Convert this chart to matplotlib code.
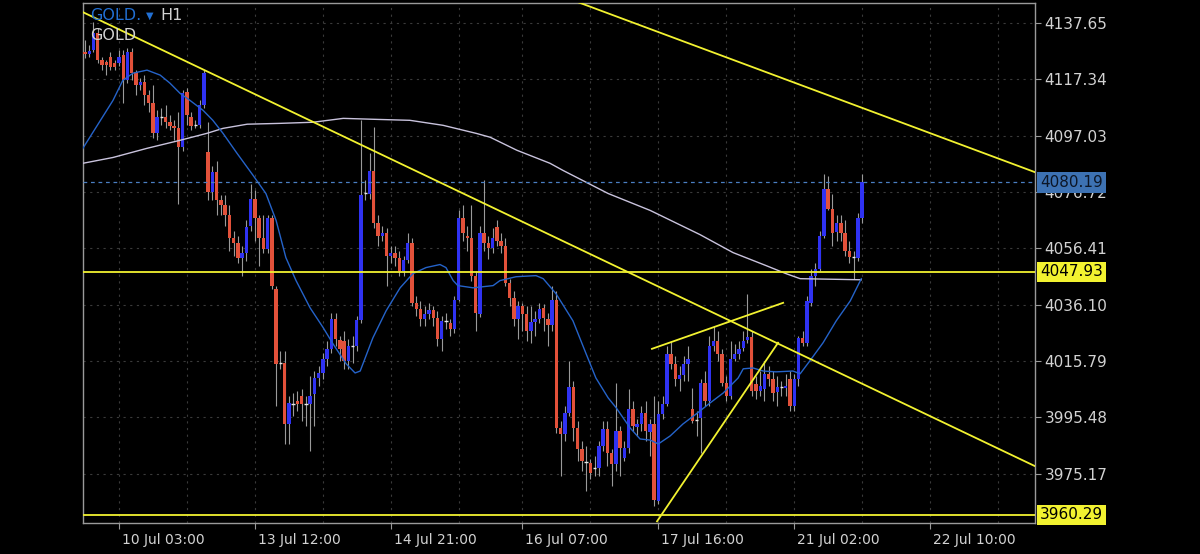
import numpy as np
import matplotlib
matplotlib.use('Agg')
import matplotlib.pyplot as plt
from matplotlib.transforms import blended_transform_factory, ScaledTranslation

# H1 candles, GOLD (bar index = position on the chart)
opens = [
    4127.2, 4126.4, 4127.9, 4134.0, 4124.3, 4123.6, 4125.4, 4123.2, 4123.2, 4126.1,
    4117.0, 4127.2, 4119.9, 4115.2, 4116.3, 4111.6, 4108.7, 4097.9, 4104.0, 4103.7,
    4101.9, 4100.4, 4099.7, 4092.8, 4112.7, 4103.7, 4100.4, 4100.8, 4108.0, 4091.0,
    4076.6, 4083.8, 4073.7, 4071.9, 4068.3, 4060.3, 4058.5, 4053.1, 4054.9, 4064.6,
    4074.4, 4067.5, 4060.0, 4056.3, 4067.2, 4041.9, 4015.1, 4015.1, 3993.1, 4000.7,
    4001.4, 4003.2, 4000.3, 4000.3, 4003.9, 4009.7, 4011.5, 4016.6, 4020.2, 4031.0,
    4023.4, 4023.1, 4015.9, 4021.3, 4021.3, 4030.7, 4076.2, 4076.2, 4084.5, 4065.7,
    4061.0, 4062.1, 4053.8, 4054.9, 4053.1, 4048.4, 4052.4, 4058.5, 4036.8, 4034.6,
    4031.0, 4032.8, 4034.3, 4031.4, 4023.8, 4030.3, 4029.6, 4027.4, 4037.9, 4067.5,
    4061.0, 4060.0, 4046.6, 4032.8, 4061.8, 4058.5, 4056.7, 4064.3, 4059.2, 4057.4,
    4044.0, 4038.6, 4031.0, 4035.7, 4032.8, 4026.7, 4030.0, 4031.0, 4035.0, 4031.0,
    4028.9, 4037.9, 3991.6, 3989.5, 3997.1, 4006.5, 3991.6, 3984.1, 3979.4, 3979.0,
    3977.2, 3977.2, 3985.1, 3991.3, 3982.6, 3978.6, 3990.6, 3980.8, 3984.4, 3998.5,
    3992.0, 3993.1, 3997.1, 3990.2, 3993.1, 3965.3, 3996.7, 4000.3, 4018.4, 4014.8,
    4009.3, 4010.8, 4014.8, 3998.5, 3994.5, 3995.3, 4007.9, 4001.4, 4021.3, 4023.1,
    4018.4, 4007.9, 4003.2, 4016.6, 4018.4, 4020.6, 4023.4, 4024.5, 4007.5, 4005.0,
    4005.7, 4011.2, 4009.3, 4004.7, 4006.5, 4006.1, 4009.3, 3999.6, 4009.3, 4024.2,
    4022.4, 4036.8, 4046.6, 4049.1, 4061.0, 4078.0, 4070.8, 4062.5, 4065.7, 4062.1,
    4055.6, 4053.1, 4053.1, 4067.5]

highs = [
    4131.5, 4129.7, 4138.0, 4135.8, 4125.4, 4124.3, 4127.2, 4124.3, 4127.9, 4127.9,
    4128.6, 4128.6, 4120.7, 4117.8, 4118.9, 4113.4, 4115.2, 4106.2, 4106.9, 4108.0,
    4104.4, 4102.6, 4105.5, 4113.4, 4114.2, 4105.5, 4102.6, 4109.8, 4120.7, 4101.9,
    4086.3, 4088.1, 4075.5, 4075.5, 4071.9, 4062.8, 4061.0, 4057.4, 4066.5, 4079.8,
    4077.3, 4068.3, 4068.3, 4068.3, 4068.3, 4043.0, 4019.5, 4019.5, 4003.2, 4004.3,
    4005.0, 4005.7, 4003.2, 4010.4, 4012.2, 4014.0, 4018.7, 4023.1, 4033.2, 4033.2,
    4024.9, 4026.7, 4023.8, 4024.9, 4032.1, 4102.6, 4080.9, 4090.7, 4100.1, 4068.3,
    4064.6, 4063.6, 4057.4, 4057.4, 4055.6, 4053.8, 4061.8, 4060.0, 4039.3, 4037.5,
    4035.7, 4036.8, 4035.7, 4033.9, 4032.1, 4033.2, 4031.0, 4039.3, 4070.1, 4071.9,
    4064.6, 4071.9, 4048.4, 4064.6, 4080.9, 4061.0, 4063.6, 4066.5, 4062.1, 4060.0,
    4045.5, 4041.2, 4037.5, 4036.8, 4035.7, 4035.7, 4033.9, 4036.8, 4036.5, 4033.2,
    4043.0, 4041.2, 3994.2, 3999.6, 4015.9, 4008.6, 3994.2, 3986.9, 3985.1, 3980.4,
    3981.5, 3986.9, 3994.2, 3994.2, 3984.1, 4007.9, 3992.4, 3986.9, 4005.7, 4001.4,
    3994.9, 3999.6, 4001.4, 3994.9, 4003.2, 4001.4, 4003.2, 4021.3, 4023.1, 4017.7,
    4014.0, 4017.7, 4021.3, 4006.1, 3997.8, 4009.3, 4012.2, 4024.9, 4028.5, 4026.7,
    4020.2, 4010.4, 4023.1, 4022.0, 4023.1, 4026.7, 4040.1, 4026.7, 4010.4, 4012.2,
    4015.9, 4014.0, 4012.2, 4010.4, 4008.6, 4011.2, 4012.2, 4011.2, 4024.9, 4026.7,
    4039.3, 4049.1, 4051.3, 4062.8, 4083.4, 4082.7, 4076.2, 4068.3, 4068.3, 4066.5,
    4059.2, 4055.6, 4069.3, 4083.4]

lows = [
    4125.0, 4125.4, 4127.2, 4123.2, 4120.7, 4118.9, 4120.7, 4120.7, 4122.1, 4108.7,
    4116.0, 4117.0, 4111.6, 4113.4, 4108.0, 4105.5, 4096.1, 4095.4, 4100.8, 4099.7,
    4099.0, 4095.4, 4072.6, 4091.7, 4100.8, 4099.0, 4099.7, 4099.7, 4106.9, 4073.7,
    4073.7, 4068.3, 4068.3, 4064.6, 4055.6, 4053.8, 4051.3, 4046.6, 4052.0, 4062.8,
    4059.2, 4050.2, 4054.9, 4054.9, 4041.9, 3999.6, 4013.0, 3985.9, 3985.9, 3996.0,
    3997.8, 3994.2, 3992.4, 3983.3, 3992.4, 4006.8, 4009.3, 4014.0, 4018.7, 4021.3,
    4015.9, 4013.0, 4013.0, 4015.1, 4019.5, 4029.6, 4073.7, 4074.4, 4063.6, 4057.4,
    4059.2, 4043.0, 4051.3, 4050.2, 4046.6, 4046.6, 4051.3, 4035.7, 4032.1, 4028.5,
    4028.5, 4031.0, 4028.5, 4021.3, 4019.5, 4027.4, 4024.9, 4026.0, 4037.5, 4059.2,
    4055.6, 4044.8, 4026.7, 4031.8, 4055.6, 4052.7, 4054.9, 4057.4, 4054.9, 4043.0,
    4035.7, 4028.5, 4023.8, 4026.7, 4023.1, 4022.4, 4024.9, 4029.6, 4026.7, 4021.3,
    4026.7, 3989.8, 3974.3, 3986.9, 3996.0, 3986.9, 3979.7, 3976.1, 3968.9, 3973.2,
    3974.3, 3974.3, 3983.3, 3977.9, 3970.7, 3976.1, 3974.3, 3979.7, 3982.6, 3990.6,
    3988.8, 3990.6, 3986.9, 3981.5, 3963.5, 3964.2, 3994.9, 3999.6, 4013.0, 4006.8,
    4005.0, 4008.6, 4008.6, 3993.4, 3988.8, 3982.6, 3999.6, 3999.6, 4019.5, 4015.9,
    4006.8, 4001.4, 4002.1, 4015.9, 4016.6, 4019.5, 4022.4, 4003.2, 4002.1, 4003.2,
    4001.4, 4006.8, 4001.4, 3999.6, 4003.2, 4003.2, 3997.8, 3997.8, 4006.8, 4021.3,
    4021.3, 4035.7, 4043.0, 4048.4, 4060.3, 4070.1, 4057.4, 4059.2, 4059.2, 4053.8,
    4051.3, 4045.5, 4052.0, 4065.7]

closes = [
    4126.4, 4127.5, 4134.0, 4124.3, 4122.5, 4122.5, 4121.7, 4121.7, 4125.4, 4117.0,
    4127.2, 4119.6, 4115.2, 4116.3, 4111.6, 4108.7, 4097.9, 4103.7, 4103.7, 4101.9,
    4100.4, 4099.7, 4092.8, 4112.4, 4104.4, 4100.4, 4100.8, 4108.0, 4119.6, 4076.6,
    4083.8, 4073.7, 4071.9, 4068.3, 4060.3, 4058.5, 4053.1, 4054.9, 4064.3, 4074.4,
    4067.5, 4060.0, 4056.3, 4067.2, 4043.0, 4014.8, 4015.0, 3993.1, 4000.7, 4000.3,
    4000.3, 4000.3, 4000.4, 4003.2, 4009.7, 4011.5, 4016.6, 4020.2, 4031.0, 4023.8,
    4020.2, 4015.9, 4021.3, 4021.4, 4030.7, 4075.5, 4076.3, 4084.5, 4065.7, 4061.0,
    4062.1, 4053.8, 4054.9, 4053.1, 4048.4, 4052.4, 4058.5, 4036.8, 4034.6, 4031.0,
    4032.8, 4034.3, 4031.4, 4023.8, 4030.3, 4030.4, 4027.4, 4037.9, 4067.5, 4061.8,
    4060.0, 4046.6, 4033.2, 4061.8, 4058.5, 4056.7, 4060.0, 4059.2, 4057.4, 4044.0,
    4038.6, 4031.0, 4035.7, 4032.8, 4026.7, 4030.0, 4031.0, 4034.6, 4031.4, 4028.9,
    4037.9, 3991.6, 3989.5, 3997.1, 4006.5, 3991.6, 3984.1, 3979.7, 3979.3, 3975.4,
    3977.3, 3985.1, 3991.3, 3982.6, 3978.6, 3990.6, 3984.4, 3984.4, 3998.5, 3992.4,
    3993.1, 3997.1, 3990.6, 3993.1, 3965.6, 3996.7, 4000.3, 4018.4, 4014.8, 4009.3,
    4010.8, 4014.8, 4016.6, 3994.2, 3994.6, 4007.9, 4001.4, 4021.3, 4023.1, 4018.4,
    4007.9, 4003.2, 4016.6, 4018.4, 4020.2, 4023.1, 4024.5, 4005.0, 4005.0, 4006.8,
    4011.2, 4009.3, 4004.3, 4006.5, 4006.6, 4006.8, 3999.6, 4009.3, 4024.2, 4022.4,
    4037.5, 4046.6, 4049.1, 4061.0, 4078.0, 4070.8, 4062.1, 4065.7, 4062.1, 4055.6,
    4053.4, 4053.2, 4067.5, 4080.19]

# moving averages (bar index, price)
fast_ma_x = [-0.5, 6.6, 8.9, 11.3, 14.6, 17.7, 20.0, 22.4, 24.7, 27.8, 30.1, 32.5, 35.8,
             39.6, 42.6, 45.0, 47.3, 49.7, 53.0, 56.1, 58.4, 61.5, 63.6, 64.8, 67.8, 70.9,
             74.2, 77.2, 80.3, 83.6, 85.0, 86.7, 87.8, 91.4, 96.1, 97.7, 101.5, 106.2,
             107.9, 110.9, 114.9, 118.0, 120.3, 123.2, 125.1, 128.4, 130.7, 133.1, 135.0,
             137.8, 140.8, 143.9, 147.2, 150.3, 153.8, 155.0, 157.3, 159.7, 162.7, 166.7,
             168.4, 170.7, 173.8, 176.9, 180.2, 182.8]
fast_ma_y = [4092.5, 4109.8, 4117.0, 4119.6, 4120.7, 4118.9, 4116.0, 4112.3, 4109.8, 4106.2,
             4102.6, 4097.9, 4090.7, 4082.7, 4076.2, 4066.5, 4053.1, 4044.8, 4035.0, 4027.8,
             4022.0, 4014.8, 4011.5, 4012.2, 4024.2, 4033.9, 4042.2, 4047.3, 4049.5, 4050.6,
             4049.5, 4044.8, 4043.0, 4042.2, 4043.0, 4044.8, 4046.2, 4046.6, 4045.5, 4040.1,
             4030.3, 4018.4, 4009.7, 4002.5, 3998.9, 3991.6, 3987.7, 3987.3, 3985.9, 3988.8,
             3993.1, 3996.7, 4000.7, 4004.3, 4009.7, 4013.0, 4013.3, 4012.2, 4011.9, 4012.2,
             4011.2, 4015.9, 4022.4, 4030.3, 4037.5, 4045.5]
slow_ma_x = [-0.5, 6.6, 14.6, 22.4, 28.7, 32.5, 38.2, 45.9, 53.7, 60.8, 69.5, 76.5, 84.3,
             92.1, 95.4, 101.7, 109.5, 112.6, 123.2, 133.1, 144.8, 152.6, 160.4, 165.1,
             168.4, 182.8]
slow_ma_y = [4087.1, 4089.2, 4092.5, 4095.4, 4097.9, 4099.7, 4101.2, 4101.5, 4101.9, 4103.3,
             4102.9, 4102.6, 4100.8, 4097.9, 4096.5, 4091.8, 4087.1, 4084.5, 4076.2, 4070.1,
             4061.4, 4054.9, 4050.2, 4047.3, 4045.5, 4045.1]

# drawn trend lines: (x0, y0, x1, y1)
trend_lines = [
    (-0.5, 4141.6, 223.7, 3977.9),
    (116.1, 4145.2, 223.7, 4083.9),
    (133.5, 4020.2, 164.4, 4036.8),
    (134.7, 3958.0, 163.2, 4022.4),
]
levels = [4047.93, 3960.29]
last_price = 4080.19

y_ticks = [3975.17, 3995.48, 4015.79, 4036.10, 4056.41, 4076.72, 4097.03, 4117.34, 4137.65]
x_tick_pos = [8, 40, 72, 103, 135, 167, 199]
x_tick_labels = ['10 Jul 03:00', '13 Jul 12:00', '14 Jul 21:00', '16 Jul 07:00',
                 '17 Jul 16:00', '21 Jul 02:00', '22 Jul 10:00']
x_grid_minor = [24, 56, 88, 119, 151, 183, 215]

BULL = '#2f32f2'
BEAR = '#e2513a'
YELLOW = '#f2f230'
TXT = '#d2d2d2'

fig = plt.figure(figsize=(12, 5.54), dpi=100, facecolor='black')
ax = fig.add_axes([83 / 1200, 31 / 554, 952 / 1200, 520 / 554])
ax.set_facecolor('black')

o = np.array(opens)
h = np.array(highs)
l = np.array(lows)
c = np.array(closes)
idx = np.arange(len(c))

ax.vlines(idx, l, h, color='#9a9a9a', lw=0.8, zorder=2)
up = c >= o
body = np.abs(c - o)
doji = body < 0.5
ax.bar(idx[up & ~doji], (c - o)[up & ~doji], bottom=o[up & ~doji], width=0.8,
       color=BULL, zorder=3)
ax.bar(idx[~up & ~doji], (c - o)[~up & ~doji], bottom=o[~up & ~doji], width=0.8,
       color=BEAR, zorder=3)
ax.hlines(c[doji], idx[doji] - 0.4, idx[doji] + 0.4, color='#e8e8e8', lw=1.0, zorder=3)

ax.plot(slow_ma_x, slow_ma_y, color='#c9c3dd', lw=1.0, zorder=4)
ax.plot(fast_ma_x, fast_ma_y, color='#2563c9', lw=1.0, zorder=4)

ax.axhline(last_price, color='#4a7fc2', lw=0.9, ls=(0, (3, 3)), zorder=4)
for lv in levels:
    ax.axhline(lv, color=YELLOW, lw=1.3, zorder=5)
for x0, y0, x1, y1 in trend_lines:
    ax.plot([x0, x1], [y0, y1], color=YELLOW, lw=1.3, zorder=5)

ax.set_xlim(-0.47, 223.7)
ax.set_ylim(3957.4, 4144.9)

# axes, ticks, grid
ax.yaxis.tick_right()
ax.set_yticks(y_ticks)
ax.set_yticklabels([f'{v:.2f}' for v in y_ticks])
ax.set_xticks(x_tick_pos)
ax.set_xticklabels(x_tick_labels)
ax.set_xticks(x_grid_minor, minor=True)
ax.tick_params(axis='y', colors='#9a9a9a', labelcolor=TXT, labelsize=11, length=4, pad=3)
ax.tick_params(axis='x', which='major', colors='#9a9a9a', labelcolor=TXT, labelsize=10,
               length=4, pad=3)
ax.tick_params(axis='x', which='minor', length=0)
shift = ScaledTranslation(2 / 72, 0, fig.dpi_scale_trans)
for lbl in ax.get_xticklabels():
    lbl.set_horizontalalignment('left')
    lbl.set_transform(lbl.get_transform() + shift)
ax.grid(True, which='both', axis='x', color='#3a3a3a', ls=(0, (2, 4)), lw=0.8)
ax.grid(True, which='major', axis='y', color='#3a3a3a', ls=(0, (2, 4)), lw=0.8)
ax.set_axisbelow(True)
for s in ax.spines.values():
    s.set_color('#9a9a9a')
    s.set_linewidth(1.0)

# price boxes on the right
tr = blended_transform_factory(ax.transAxes, ax.transData)
ax.text(1.0055, last_price, f'{last_price:.2f}', transform=tr, ha='left', va='center',
        fontsize=11, color='#0c1626', clip_on=False, zorder=10,
        bbox=dict(boxstyle='square,pad=0.18', fc='#3d72b3', ec='none'))
for lv in levels:
    ax.text(1.0055, lv, f'{lv:.2f}', transform=tr, ha='left', va='center',
            fontsize=11, color='black', clip_on=False, zorder=10,
            bbox=dict(boxstyle='square,pad=0.18', fc=YELLOW, ec='none'))

# symbol header
fig.text(90 / 1200, 1 - 16 / 554, 'GOLD.', color='#2270d4', fontsize=11.5, va='center')
fig.text(146 / 1200, 1 - 16 / 554, '\u25bc', color='#2270d4', fontsize=7, va='center')
fig.text(160 / 1200, 1 - 16 / 554, 'H1', color=TXT, fontsize=11.5, va='center')
fig.text(90 / 1200, 1 - 36 / 554, 'GOLD', color=TXT, fontsize=11.5, va='center')

fig.savefig('out.png', dpi=100, facecolor='black')
